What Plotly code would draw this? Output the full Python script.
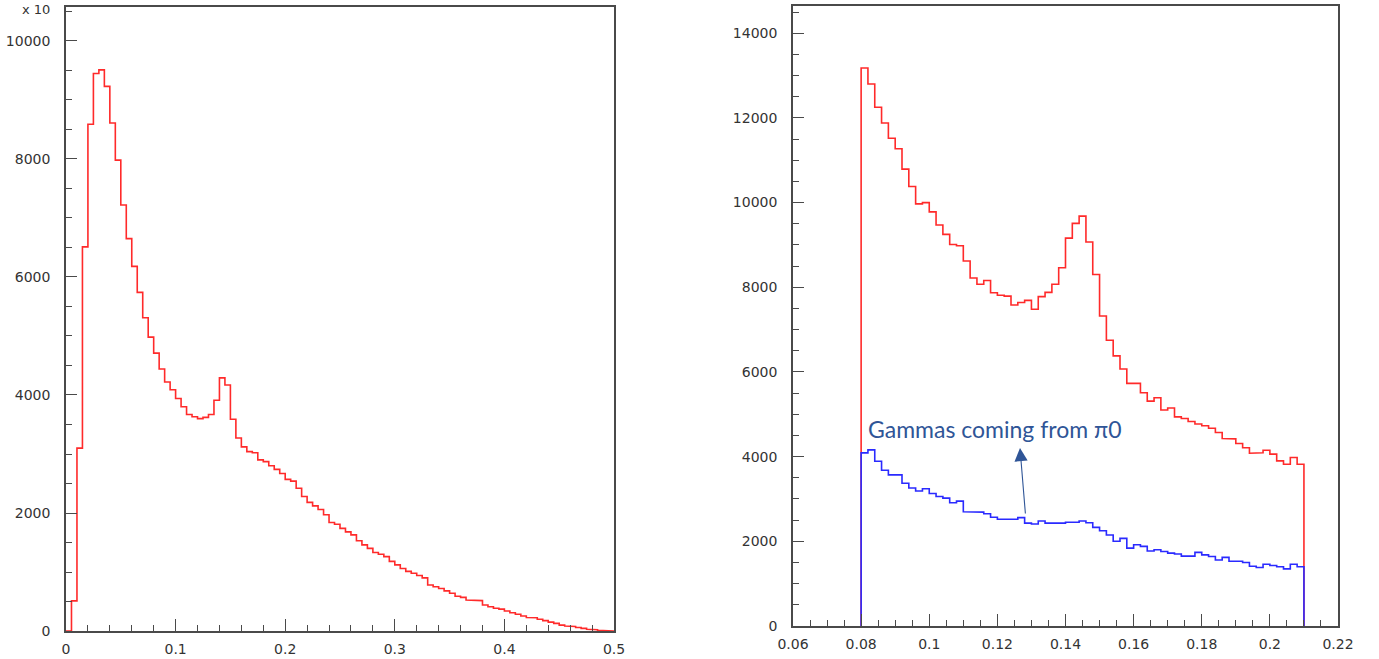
import numpy as np
import plotly.graph_objects as go

# ---- data -------------------------------------------------------------
# left: full spectrum, 100 bins in [0, 0.5]
full_lo, full_hi = 0.0, 0.5
full_counts = [
    0, 510, 3100, 6510, 8590, 9450, 9510, 9230, 8610, 7980,
    7220, 6650, 6180, 5740, 5310, 4980, 4710, 4440, 4220, 4090,
    3940, 3800, 3670, 3630, 3600, 3620, 3670, 3910, 4290, 4170,
    3590, 3270, 3120, 3040, 3020, 2900, 2870, 2800, 2740, 2670,
    2570, 2540, 2420, 2280, 2180, 2120, 2060, 1970, 1840, 1810,
    1740, 1680, 1630, 1530, 1460, 1400, 1330, 1300, 1260, 1180,
    1120, 1060, 1010, 980, 940, 900, 780, 750, 720, 680,
    640, 590, 570, 525, 515, 515, 440, 410, 385, 370,
    340, 310, 285, 255, 230, 225, 200, 175, 150, 130,
    100, 85, 75, 60, 45, 30, 20, 10, 5, 0,
]

# right: zoom on the pi0 region, 65 bins in [0.08, 0.21]
zoom_lo, zoom_hi = 0.08, 0.21
all_counts = [
    13180, 12800, 12250, 11880, 11520, 11270, 10790, 10380, 9970, 10000,
    9780, 9470, 9250, 9010, 8980, 8620, 8220, 8070, 8160, 7870,
    7810, 7790, 7580, 7640, 7690, 7480, 7780, 7880, 8070, 8460,
    9160, 9510, 9680, 9070, 8300, 7320, 6750, 6380, 6070, 5730,
    5730, 5510, 5310, 5390, 5100, 5150, 4940, 4900, 4830, 4770,
    4730, 4670, 4570, 4430, 4420, 4310, 4210, 4080, 4090, 4150,
    4060, 3900, 3820, 3980, 3820,
]
pi0_counts = [
    4090, 4160, 3890, 3680, 3570, 3570, 3370, 3260, 3190, 3240,
    3130, 3060, 3020, 2910, 2950, 2700, 2700, 2690, 2650, 2570,
    2520, 2520, 2520, 2560, 2430, 2410, 2480, 2430, 2430, 2430,
    2450, 2450, 2480, 2440, 2330, 2250, 2150, 2000, 2070, 1840,
    1920, 1880, 1770, 1800, 1760, 1720, 1700, 1650, 1650, 1740,
    1680, 1640, 1560, 1620, 1530, 1530, 1500, 1410, 1380, 1460,
    1430, 1400, 1350, 1460, 1400,
]

annotation_text = "Gammas coming from π0"
scale_label = "x 10"


def step_outline(lo, hi, counts):
    """ROOT-style histogram outline: closed at zero on both ends."""
    n = len(counts)
    edges = np.linspace(lo, hi, n + 1)
    xs, ys = [edges[0]], [0]
    for i, c in enumerate(counts):
        xs += [edges[i], edges[i + 1]]
        ys += [c, c]
    xs.append(edges[-1])
    ys.append(0)
    return xs, ys


W, H = 1379, 659
RED = "#ff2a2a"
BLUE = "#2a2aff"
AXIS = "#4a4a4a"
TICKFONT = dict(family="DejaVu Sans", size=14, color="#333333")

fig = go.Figure()

x, y = step_outline(full_lo, full_hi, full_counts)
fig.add_trace(go.Scatter(x=x, y=y, mode="lines", line=dict(color=RED, width=1.6),
                         xaxis="x", yaxis="y", showlegend=False, hoverinfo="skip"))

x, y = step_outline(zoom_lo, zoom_hi, all_counts)
fig.add_trace(go.Scatter(x=x, y=y, mode="lines", line=dict(color=RED, width=1.6),
                         xaxis="x2", yaxis="y2", showlegend=False, hoverinfo="skip"))

x, y = step_outline(zoom_lo, zoom_hi, pi0_counts)
fig.add_trace(go.Scatter(x=x, y=y, mode="lines", line=dict(color=BLUE, width=1.6),
                         xaxis="x2", yaxis="y2", showlegend=False, hoverinfo="skip"))


def axis(domain, rng, dtick, minor_dtick, anchor, fmt=None):
    d = dict(
        domain=domain, range=rng, anchor=anchor,
        showgrid=False, zeroline=False, automargin=False,
        showline=True, mirror=True, linecolor=AXIS, linewidth=1.6,
        ticks="inside", ticklen=12, tickwidth=1.4, tickcolor=AXIS,
        dtick=dtick, tick0=0,
        minor=dict(ticks="inside", ticklen=6, tickwidth=1.2,
                   tickcolor=AXIS, dtick=minor_dtick, tick0=0),
        tickfont=TICKFONT,
    )
    if fmt:
        d["tickformat"] = fmt
    return d


# pixel frame of each panel
L = dict(x0=66, x1=614, y0=7, y1=631)
R = dict(x0=793, x1=1338, y0=6, y1=626)

xa = axis([L["x0"] / W, L["x1"] / W], [full_lo, full_hi], 0.1, 0.02, "y")
ya = axis([1 - L["y1"] / H, 1 - L["y0"] / H], [0, 10576], 2000, 500, "x", "d")
xb = axis([R["x0"] / W, R["x1"] / W], [0.06, 0.22], 0.02, 0.005, "y2")
yb = axis([1 - R["y1"] / H, 1 - R["y0"] / H], [0, 14643], 2000, 500, "x2", "d")
for a in (ya, yb):
    a["ticklabelstandoff"] = 11
    a["ticklen"] = 11
for a in (xa, xb):
    a["ticklabelstandoff"] = 4

fig.update_layout(
    width=W, height=H,
    margin=dict(l=0, r=0, t=0, b=0),
    paper_bgcolor="white", plot_bgcolor="white",
    xaxis=xa, yaxis=ya, xaxis2=xb, yaxis2=yb,
)

# multiplier label above the left y axis
fig.add_annotation(text=scale_label, xref="paper", yref="paper",
                   x=52 / W, y=1 - 9.5 / H, xanchor="right", yanchor="middle",
                   showarrow=False, font=dict(family="DejaVu Sans", size=13, color="#333333"))

# label and arrow pointing at the pi0 contribution
fig.add_annotation(text=annotation_text, xref="paper", yref="paper",
                   x=866 / W, y=1 - 429 / H, xanchor="left", yanchor="middle",
                   showarrow=False, font=dict(family="Lato", size=23, color="#2f5597"))
fig.add_annotation(x=0.12664, y=4204, xref="x2", yref="y2",
                   ax=0.12826, ay=2622, axref="x2", ayref="y2",
                   text="", showarrow=True, arrowhead=2, arrowsize=2.4,
                   arrowwidth=1.1, arrowcolor="#2f5597")

fig.write_html("out.html")
